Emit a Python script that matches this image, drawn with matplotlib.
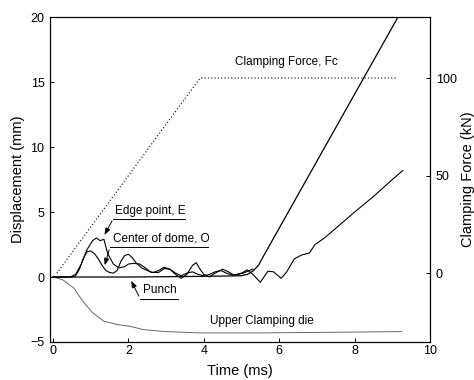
import matplotlib
matplotlib.use("Agg")
import matplotlib.pyplot as plt

plt.rcParams['font.family'] = ['Liberation Sans', 'DejaVu Sans']

# values
t_edge = [0, 0.45, 0.6, 0.75, 0.9, 1.05, 1.15, 1.25, 1.35, 1.45, 1.6, 1.75, 1.9, 2.0, 2.15,
          2.3, 2.45, 2.6, 2.8, 2.95, 3.1, 3.25, 3.4, 3.55, 3.7, 3.85, 4.0, 4.15, 4.3, 4.45,
          4.6, 4.75, 4.9, 5.05, 5.2, 5.3]
d_edge = [0, 0, 0.2, 1.0, 2.1, 2.8, 3.0, 2.8, 2.9, 1.8, 1.0, 0.7, 0.8, 1.0, 1.05,
          1.0, 0.7, 0.35, 0.35, 0.65, 0.6, 0.3, 0.1, 0.3, 0.4, 0.2, 0.1, 0.2, 0.4, 0.5,
          0.3, 0.15, 0.2, 0.3, 0.5, 0.6]

t_center = [0, 0.5, 0.6, 0.7, 0.8, 0.9, 1.0, 1.1, 1.2, 1.3, 1.4, 1.5, 1.6, 1.7, 1.8, 1.9,
            2.0, 2.1, 2.2, 2.35, 2.5, 2.65, 2.8, 2.95, 3.1, 3.25, 3.4, 3.55, 3.7, 3.8, 3.9,
            4.0, 4.15, 4.3, 4.5, 4.65, 4.8, 5.0, 5.15, 5.3, 5.5, 5.7, 5.85, 6.05, 6.2, 6.4,
            6.6, 6.8, 6.95, 7.2, 7.5, 8.0, 8.5, 9.0, 9.28]
d_center = [0, 0, 0.1, 0.6, 1.4, 1.95, 2.0, 1.8, 1.4, 0.9, 0.5, 0.35, 0.3, 0.5, 1.2, 1.65,
            1.75, 1.5, 1.1, 0.7, 0.5, 0.35, 0.5, 0.75, 0.6, 0.2, -0.1, 0.2, 0.9, 1.1, 0.6,
            0.2, 0.0, 0.3, 0.6, 0.4, 0.15, 0.3, 0.55, 0.2, -0.4, 0.45, 0.4, -0.1, 0.4, 1.4,
            1.7, 1.85, 2.5, 3.0, 3.75, 5.0, 6.2, 7.5, 8.2]

t_punch = [0, 2.0, 4.0, 5.0, 5.15, 5.3, 5.45, 5.6, 9.15]
d_punch = [0, 0, 0.05, 0.1, 0.2, 0.45, 0.9, 1.7, 20.0]

t_die = [0, 0.25, 0.55, 0.8, 1.05, 1.35, 1.7, 2.05, 2.4, 3.0, 3.9, 5.5, 7.5, 9.25]
d_die = [0, -0.2, -0.85, -1.9, -2.75, -3.4, -3.65, -3.8, -4.05, -4.2, -4.3, -4.3, -4.25, -4.2]

t_force = [0.1, 3.9, 9.15]
f_force = [0, 100, 100]

fig = plt.figure(figsize=(4.74, 3.8), dpi=100)
ax = fig.add_axes([0.1055, 0.1, 0.8017, 0.855])
ax2 = ax.twinx()

ax.plot(t_die, d_die, color="#666666", lw=0.7)
ax.plot(t_punch, d_punch, color="black", lw=0.9)
ax.plot(t_edge, d_edge, color="black", lw=0.8)
ax.plot(t_center, d_center, color="black", lw=0.8)
ax2.plot(t_force, f_force, color="black", lw=0.8, linestyle=(0, (1, 2)))

ax.set_xlim(-0.08, 10)
ax.set_ylim(-5, 20)
ax2.set_ylim(-35.2, 131.2)
ax.set_xticks([0, 2, 4, 6, 8, 10])
ax.set_yticks([-5, 0, 5, 10, 15, 20])
ax2.set_yticks([0, 50, 100])

for a in (ax, ax2):
    a.tick_params(direction="in", length=3, width=0.7, labelsize=9)
    for s in a.spines.values():
        s.set_linewidth(0.8)
ax.tick_params(axis="y", pad=4)
ax.tick_params(axis="x", pad=2)
ax2.tick_params(axis="y", pad=4)

ax.set_xlabel("Time (ms)", fontsize=10.5, labelpad=5)
ax.set_ylabel("Displacement (mm)", fontsize=10.5, labelpad=4)
ax2.set_ylabel("Clamping Force (kN)", fontsize=10.5, labelpad=3)

# labels with leader lines
fs = 8.5
ax.text(1.65, 5.1, "Edge point, E", fontsize=fs, va="center")
ax.plot([1.6, 3.5], [4.5, 4.5], color="black", lw=0.7)
ax.annotate("", xy=(1.33, 3.05), xytext=(1.6, 4.5),
            arrowprops=dict(arrowstyle="-|>,head_length=0.4,head_width=0.15", color="black", lw=0.7))

ax.text(1.6, 3.0, "Center of dome, O", fontsize=fs, va="center")
ax.plot([1.51, 4.11], [2.3, 2.3], color="black", lw=0.7)
ax.annotate("", xy=(1.35, 0.7), xytext=(1.51, 2.3),
            arrowprops=dict(arrowstyle="-|>,head_length=0.4,head_width=0.15", color="black", lw=0.7))

ax.text(2.39, -0.97, "Punch", fontsize=fs, va="center")
ax.plot([2.31, 3.32], [-1.66, -1.66], color="black", lw=0.7)
ax.annotate("", xy=(2.04, -0.1), xytext=(2.31, -1.66),
            arrowprops=dict(arrowstyle="-|>,head_length=0.4,head_width=0.15", color="black", lw=0.7))

ax.text(4.16, -3.35, "Upper Clamping die", fontsize=fs, va="center")
ax.text(4.83, 16.56, "Clamping Force, Fc", fontsize=fs, va="center")

fig.savefig("out.png", dpi=100)
